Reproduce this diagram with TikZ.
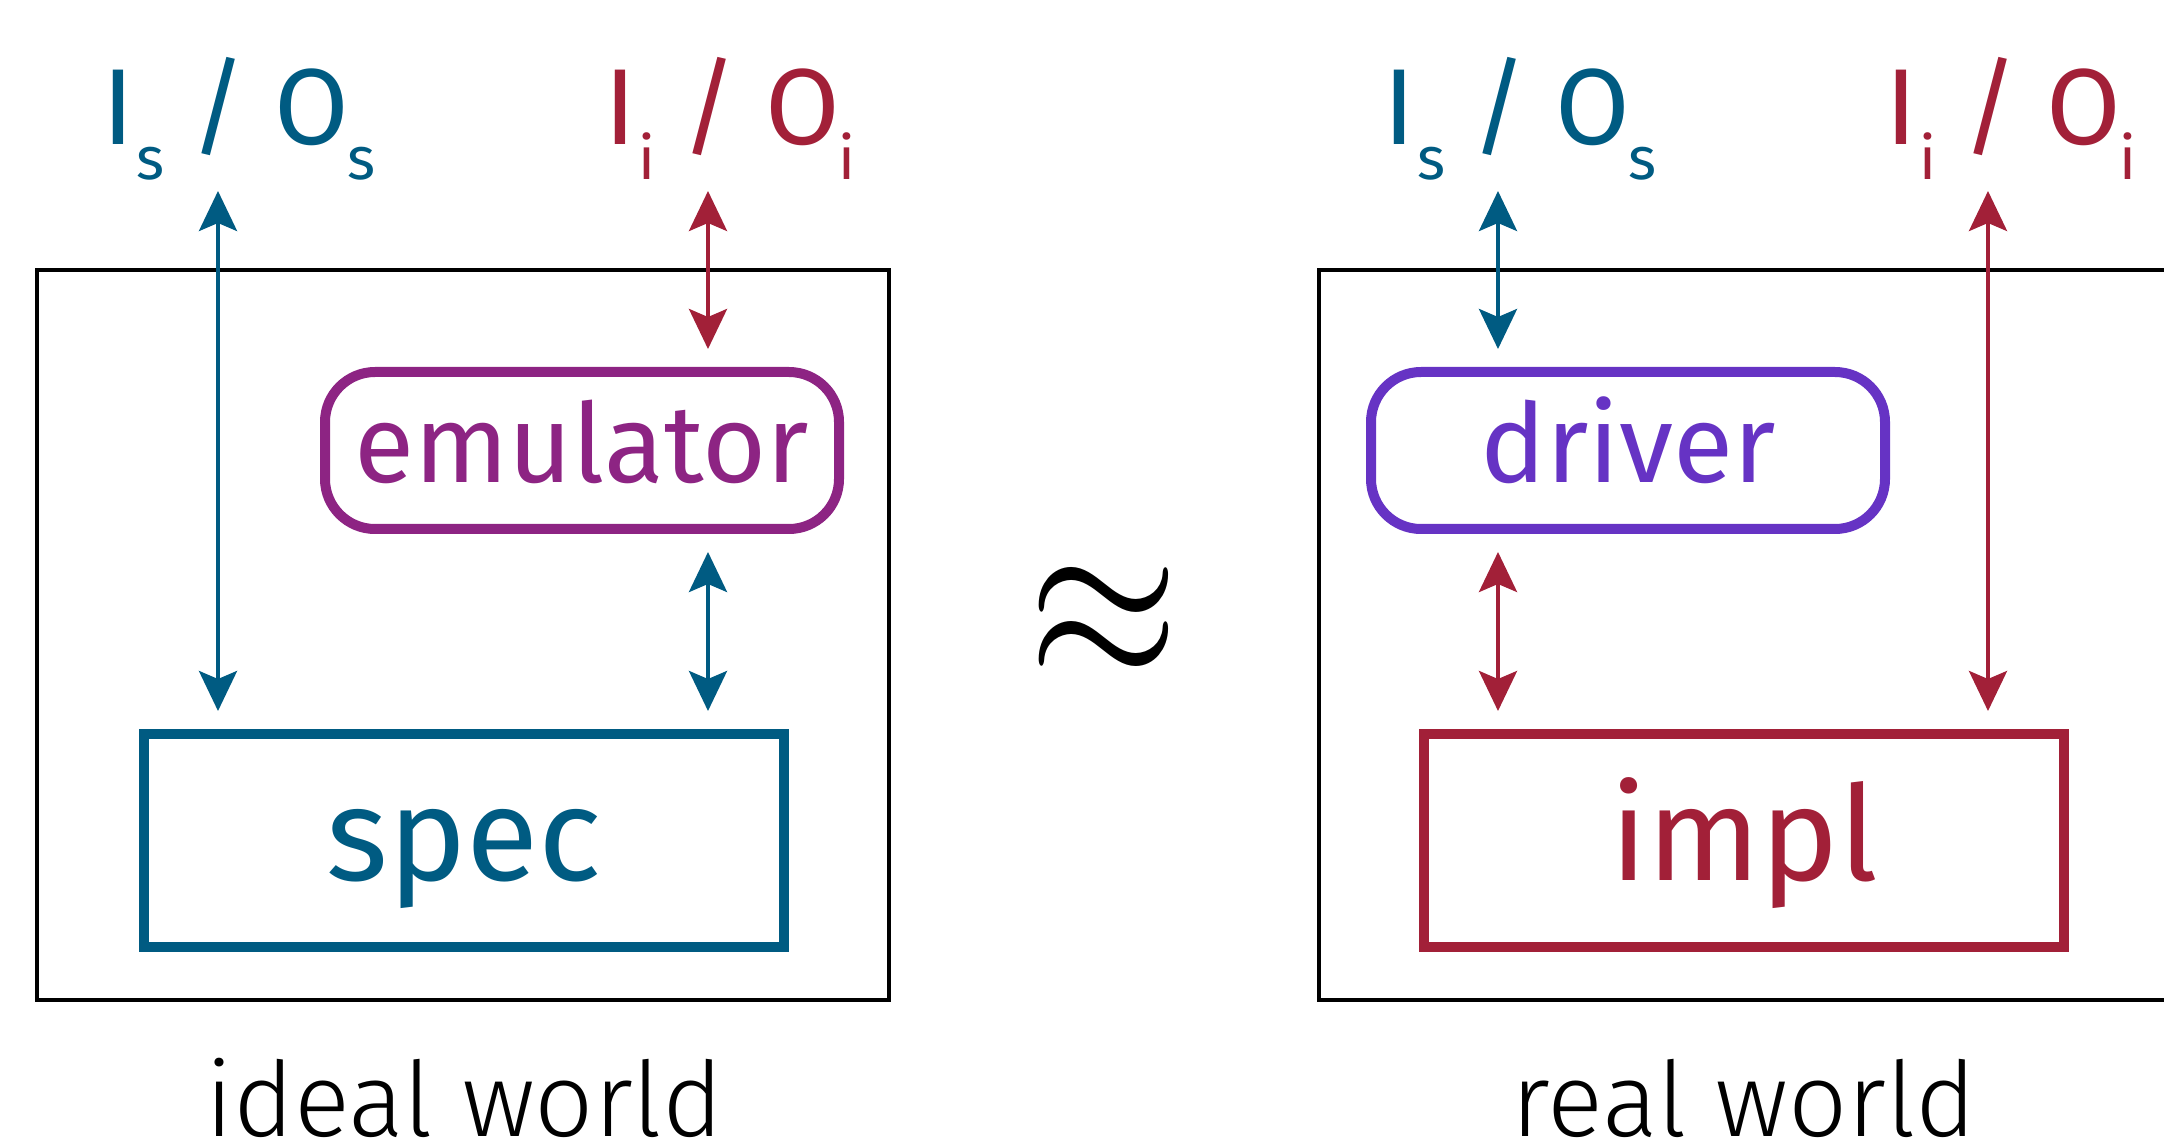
\documentclass[tikz,border=0pt]{standalone}
\usepackage{fontspec}
\setmainfont{Fira Sans}
\newfontfamily\firalight{Fira Sans Light}
\usetikzlibrary{arrows.meta}
\definecolor{specblue}{RGB}{0,91,130}
\definecolor{implred}{RGB}{162,32,56}
\definecolor{emupurple}{RGB}{141,36,131}
\definecolor{drvviolet}{RGB}{102,51,196}
\newcommand\iosub[1]{\raisebox{-17.5pt}{\fontsize{30}{30}\selectfont #1}}
\newcommand\iolab[1]{I\hspace{1pt}\iosub{#1}\hspace{13pt}/\hspace{14pt}O\hspace{-1pt}\iosub{#1}}
\begin{document}
\begin{tikzpicture}[x=0.5pt,y=-0.5pt,
 world/.style={draw=black,line width=2.2pt,minimum width=426pt,minimum height=365pt,inner sep=0pt},
 softbox/.style={rounded corners=25pt,line width=5pt,minimum width=257pt,minimum height=78.5pt,inner sep=0pt,font=\fontsize{55}{60}\selectfont,text height=32.5pt,text depth=0pt},
 hardbox/.style={line width=5pt,minimum width=320pt,minimum height=106.5pt,inner sep=0pt,font=\fontsize{66}{70}\selectfont,text height=39.5pt,text depth=0pt},
 iolabel/.style={anchor=base west,inner sep=0pt,font=\fontsize{54}{60}\selectfont},
 worldlabel/.style={anchor=base,inner sep=0pt,font=\firalight\fontsize{52}{60}\selectfont},
 link/.style={line width=2pt,{Stealth[length=20pt,width=19pt,inset=4pt]}-{Stealth[length=20pt,width=19pt,inset=4pt]},shorten >=9pt}
]
\useasboundingbox (0,0) rectangle (2164,1144);
\node[world] (ideal) at (463,635) {};
\node[world] (real) at (1745,635) {};
\node[softbox,draw=emupurple,text=emupurple] (emu) at (582,450.5) {emulator};
\node[softbox,draw=drvviolet,text=drvviolet] (drv) at (1628,450.5) {driver};
\node[hardbox,draw=specblue,text=specblue] (spec) at (464,840.5) {spec};
\node[hardbox,draw=implred,text=implred] (impl) at (1744,840.5) {impl};
\node[iolabel,text=specblue] (ioS1) at (102,145) {\iolab{s}};
\node[iolabel,text=implred] (ioI1) at (604,145) {\iolab{i}};
\node[iolabel,text=specblue] (ioS2) at (1383,145) {\iolab{s}};
\node[iolabel,text=implred] (ioI2) at (1885,145) {\iolab{i}};
\coordinate (pS1) at (218,191);
\coordinate (pI1) at (708,191);
\coordinate (pS2) at (1498,191);
\coordinate (pI2) at (1988,191);
\draw[link,specblue] (pS1) -- (spec.north -| pS1);
\draw[link,implred] (pI1) -- (emu.north -| pI1);
\draw[link,specblue,shorten <=9pt] (emu.south -| pI1) -- (spec.north -| pI1);
\draw[link,specblue] (pS2) -- (drv.north -| pS2);
\draw[link,implred,shorten <=9pt] (drv.south -| pS2) -- (impl.north -| pS2);
\draw[link,implred] (pI2) -- (impl.north -| pI2);
\node (approx) at (1104,623) {\scalebox{9.7}[11.6]{$\approx$}};
\node[worldlabel] (lblIdeal) at (464,1136) {ideal world};
\node[worldlabel] (lblReal) at (1744,1136) {real world};
\end{tikzpicture}
\end{document}
